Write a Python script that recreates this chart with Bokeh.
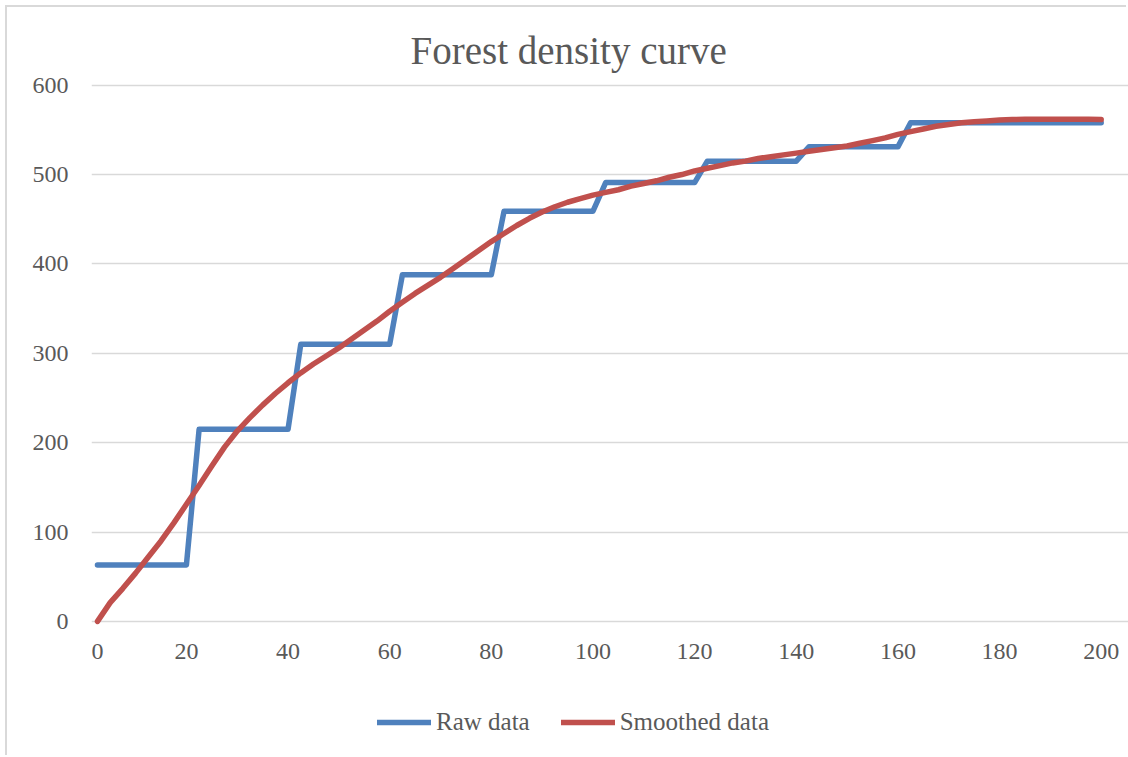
from bokeh.plotting import figure
from bokeh.models import Range1d, FixedTicker, Legend, LegendItem, ColumnDataSource
from bokeh.embed import file_html
from bokeh.resources import INLINE

# Sample points along the transect (first sample at 0, then every 2.5 from 5)
x_values = [0, 5, 7.5, 10, 12.5, 15, 17.5, 20,
            22.5, 25, 27.5, 30, 32.5, 35, 37.5, 40,
            42.5, 45, 47.5, 50, 52.5, 55, 57.5, 60,
            62.5, 65, 67.5, 70, 72.5, 75, 77.5, 80,
            82.5, 85, 87.5, 90, 92.5, 95, 97.5, 100,
            102.5, 105, 107.5, 110, 112.5, 115, 117.5, 120,
            122.5, 125, 127.5, 130, 132.5, 135, 137.5, 140,
            142.5, 145, 147.5, 150, 152.5, 155, 157.5, 160,
            162.5, 165, 167.5, 170, 172.5, 175, 177.5, 180,
            182.5, 185, 187.5, 190, 192.5, 195, 197.5, 200]

raw_data = [63, 63, 63, 63, 63, 63, 63, 63,
            215, 215, 215, 215, 215, 215, 215, 215,
            310, 310, 310, 310, 310, 310, 310, 310,
            388, 388, 388, 388, 388, 388, 388, 388,
            459, 459, 459, 459, 459, 459, 459, 459,
            491, 491, 491, 491, 491, 491, 491, 491,
            515, 515, 515, 515, 515, 515, 515, 515,
            531, 531, 531, 531, 531, 531, 531, 531,
            558, 558, 558, 558, 558, 558, 558, 558,
            558, 558, 558, 558, 558, 558, 558, 558]

smoothed_data = [0, 21, 37, 54, 72, 90, 110, 131,
                 152, 174, 195, 213, 228, 242, 255, 267,
                 278, 288, 297, 306, 316, 326, 336, 347,
                 357, 367, 376, 385, 395, 405, 415, 425,
                 434, 443, 451, 458, 464, 469, 473, 477,
                 480, 483, 487, 490, 493, 497, 500, 504,
                 507, 510, 513, 515, 518, 520, 522, 524,
                 526, 528, 530, 532, 535, 538, 541, 545,
                 548, 551, 554, 556, 558, 559, 560, 561,
                 561.5, 562, 562, 562, 562, 562, 562, 561.5]

x_tick_values = [0, 20, 40, 60, 80, 100, 120, 140, 160, 180, 200]
y_ticks = [0, 100, 200, 300, 400, 500, 600]

# Category-style axis: samples are placed at equal spacing by their index
positions = list(range(len(x_values)))
tick_positions = [x_values.index(v) for v in x_tick_values]
n = len(x_values)

src = ColumnDataSource(dict(pos=positions, raw=raw_data, smooth=smoothed_data))

FONT = "Liberation Serif"
GREY = "#595959"
GRID = "#d9d9d9"

# The frame runs to the bottom and right edges so the legend and the last
# axis label sit inside it; the gridlines are bounded to the plotting area.
p = figure(width=1121, height=750, output_backend="svg", toolbar_location=None,
           x_range=Range1d(-0.47, n - 1 + 2.15),
           y_range=Range1d(-152.3, 603),
           min_border_left=84, min_border_right=0,
           min_border_top=75, min_border_bottom=0)
p.margin = (7, 0, 0, 7)
p.styles = {"box-shadow": f"-2px -2px 0 0 {GRID}"}

p.title.text = "Forest density curve"
p.title.align = "left"
p.title.offset = 319
p.title.text_font = FONT
p.title.text_font_size = "39px"
p.title.text_font_style = "normal"
p.title.text_color = GREY
p.title.standoff = 21

p.outline_line_color = None
p.background_fill_color = "white"
p.border_fill_color = "white"

p.xgrid.visible = False
p.ygrid.grid_line_color = GRID
p.ygrid.grid_line_width = 1.3
p.ygrid.bounds = (-0.47, n - 1 + 0.5)
p.yaxis.ticker = FixedTicker(ticks=y_ticks)
p.xaxis.ticker = FixedTicker(ticks=tick_positions)
p.xaxis.major_label_overrides = {pos: str(v) for pos, v in zip(tick_positions, x_tick_values)}
p.xaxis.fixed_location = 0

for ax in (p.xaxis[0], p.yaxis[0]):
    ax.axis_line_color = None
    ax.major_tick_line_color = None
    ax.minor_tick_line_color = None
    ax.major_tick_in = 0
    ax.major_tick_out = 0
    ax.minor_tick_in = 0
    ax.minor_tick_out = 0
    ax.major_label_text_font = FONT
    ax.major_label_text_font_size = "24px"
    ax.major_label_text_color = GREY
p.yaxis.major_label_standoff = 23
p.xaxis.major_label_standoff = 23

r_raw = p.line("pos", "raw", source=src, line_color="#4F81BD", line_width=5.5,
               line_cap="round", line_join="round")
r_smooth = p.line("pos", "smooth", source=src, line_color="#C0504D", line_width=5.5,
                  line_cap="round", line_join="round")

legend = Legend(items=[LegendItem(label="Raw data", renderers=[r_raw]),
                       LegendItem(label="Smoothed data", renderers=[r_smooth])],
                orientation="horizontal", location=(286, 21),
                label_text_font=FONT, label_text_font_size="25px", label_text_color=GREY,
                glyph_width=54, glyph_height=24, label_standoff=5, spacing=31,
                border_line_color=None, background_fill_alpha=0, margin=0, padding=0)
p.add_layout(legend, "center")

open("out.html", "w").write(file_html(p, INLINE))
